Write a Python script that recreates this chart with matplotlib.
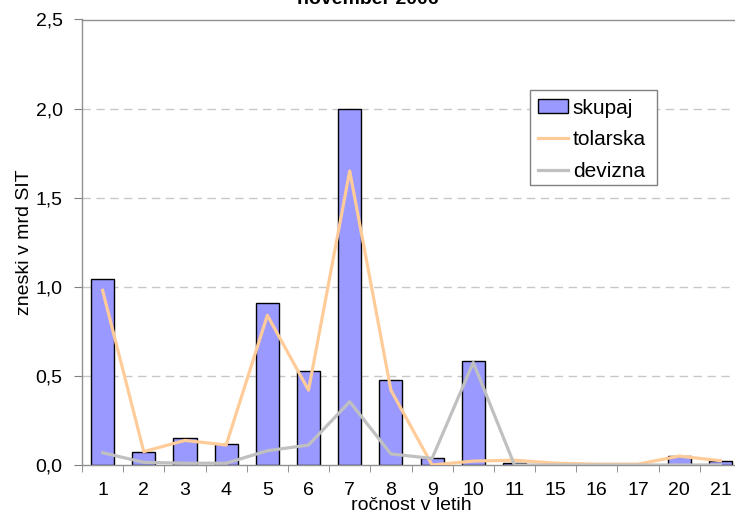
import matplotlib
matplotlib.use("Agg")
import matplotlib.pyplot as plt
from matplotlib.patches import Rectangle
import numpy as np

categories = ["1", "2", "3", "4", "5", "6", "7", "8", "9", "10", "11", "15", "16", "17", "20", "21"]
skupaj = [1.042, 0.072, 0.15, 0.12, 0.909, 0.53, 2.0, 0.476, 0.037, 0.583, 0.01, 0.0, 0.0, 0.0, 0.05, 0.024]
tolarska = [0.98, 0.075, 0.138, 0.112, 0.84, 0.42, 1.65, 0.42, 0.0, 0.022, 0.027, 0.01, 0.005, 0.005, 0.05, 0.024]
devizna = [0.069, 0.015, 0.01, 0.01, 0.08, 0.112, 0.355, 0.062, 0.037, 0.575, 0.0, 0.0, 0.0, 0.0, 0.0, 0.0]
yticks = [0.0, 0.5, 1.0, 1.5, 2.0, 2.5]

plt.rcParams['font.family'] = ['Liberation Sans', 'DejaVu Sans']

W, H = 735, 523
L, R, T, B = 82, 741, 19.5, 465
fig = plt.figure(figsize=(W/100, H/100), dpi=100)
ax = fig.add_axes([L/W, 1 - B/H, (R-L)/W, (B-T)/H])

x = np.arange(len(categories))
bars = ax.bar(x, skupaj, width=0.56, color="#9999FF", edgecolor="black", linewidth=1.0, label="skupaj", zorder=2)
l1, = ax.plot(x, tolarska, color="#FFCC99", linewidth=2.3, label="tolarska", zorder=3)
l2, = ax.plot(x, devizna, color="#C0C0C0", linewidth=2.3, label="devizna", zorder=3)

ax.set_xlim(-0.5, len(categories) - 0.5)
ax.set_ylim(0, 2.5)
ax.set_yticks(yticks)
ax.set_yticklabels([f"{v:.1f}".replace(".", ",") for v in yticks], fontsize=14)
for v in yticks[1:-1]:
    ax.axhline(v, color="#C8C8C8", linestyle=(0, (6, 4)), linewidth=1.0, zorder=1)

ax.set_xticks(x)
ax.set_xticklabels(categories, fontsize=14)
ax.tick_params(axis='x', which='major', length=0, pad=12.5)
ax.set_xticks(np.arange(-0.5, len(categories), 1.0), minor=True)
ax.tick_params(axis='x', which='minor', length=5, color="#808080", direction='out')
ax.tick_params(axis='y', length=6, color="#808080", direction='out', pad=8)

ax.spines["right"].set_visible(False)
for s in ["left", "bottom", "top"]:
    ax.spines[s].set_color("#909090")
    ax.spines[s].set_linewidth(1.0)

ax.set_xlabel("ročnost v letih", fontsize=14, labelpad=-1.5)
ax.set_ylabel("zneski v mrd SIT", fontsize=14, labelpad=2)

# legend frame
fig.patches.append(Rectangle((530/W, 1 - 185/H), 127/W, 95/H, transform=fig.transFigure,
                             facecolor="white", edgecolor="#808080", linewidth=1.0, zorder=1))
leg = fig.legend([bars, l1, l2], ["skupaj", "tolarska", "devizna"],
                 loc="upper left", bbox_to_anchor=(537.5/W, 1 - 98.5/H), fontsize=15,
                 frameon=False, handlelength=1.48, handleheight=0.61,
                 handletextpad=0.21, borderpad=0, labelspacing=0.62, borderaxespad=0)
leg.set_zorder(5)

fig.text(0.5, 1 - 4/H, "november 2006", ha="center", va="baseline", fontsize=14, fontweight="bold")

fig.savefig("out.png", dpi=100)
